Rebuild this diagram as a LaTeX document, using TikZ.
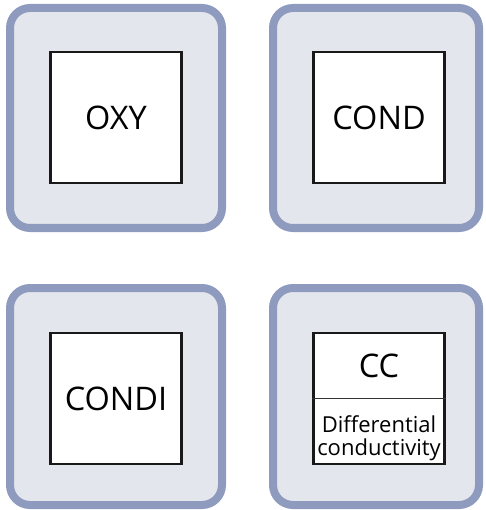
\documentclass[tikz,border=0pt]{standalone}
\usepackage{fontspec}
\setmainfont{Open Sans}
\usetikzlibrary{shapes}

\definecolor{panelline}{HTML}{8E9BBE}
\definecolor{panelfill}{HTML}{E3E6EC}

\tikzset{
  panel/.style={draw=panelline, fill=panelfill, line width=8pt, rounded corners=20pt},
  sensor/.style={draw=black!90, fill=white, line width=2.6pt, minimum size=131pt,
    inner sep=0pt, font=\fontsize{32.5}{32}\selectfont},
  caption/.style={font=\fontsize{22}{23.5}\selectfont, align=center, inner sep=0pt}
}

\begin{document}
\begin{tikzpicture}[x=1pt, y=-1pt]
\useasboundingbox (0,0) rectangle (485,510);

\draw[panel] (10,8) rectangle (222,228);
\draw[panel] (273,8) rectangle (479,228);
\draw[panel] (10,288) rectangle (222,505);
\draw[panel] (273,288) rectangle (479,505);

\node[sensor] (oxy) at (116,117.5) {OXY};
\node[sensor] (cond) at (379,117.5) {COND};
\node[sensor] (condi) at (116,398.5) {CONDI};
\node[sensor] (cc) at (379,398.5) {};

% divided label for the CC sensor
\draw[line width=1.3pt, black!80] (cc.west) -- (cc.east);
\node[font=\fontsize{32.5}{32}\selectfont] (ccname) at (379,366) {CC};
\node[caption] (ccinfo) at (379,438) {Differential\\conductivity};
\end{tikzpicture}
\end{document}
